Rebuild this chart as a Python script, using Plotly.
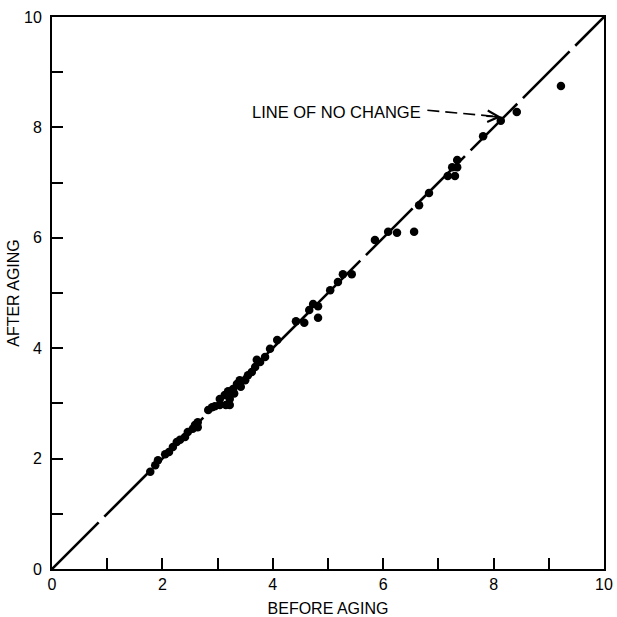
import plotly.graph_objects as go

# Data
before_aging = [1.78, 1.87, 1.92, 2.05, 2.12, 2.19, 2.26, 2.32, 2.41, 2.46, 2.55, 2.59, 2.64, 2.64,
                2.83, 2.90, 2.95, 3.04, 3.15, 3.22, 3.04, 3.13, 3.19, 3.22, 3.28, 3.30, 3.35, 3.40,
                3.42, 3.50, 3.55, 3.62, 3.68, 3.71, 3.77, 3.86, 3.95, 4.08, 4.42, 4.57, 4.66, 4.73,
                4.82, 4.82, 5.04, 5.18, 5.27, 5.43, 5.85, 6.09, 6.25, 6.56, 6.65, 6.83, 7.17, 7.30,
                7.25, 7.34, 7.34, 7.81, 8.13, 8.42, 9.22]
after_aging = [1.76, 1.88, 1.97, 2.08, 2.12, 2.21, 2.30, 2.34, 2.39, 2.48, 2.54, 2.61, 2.66, 2.57,
               2.88, 2.93, 2.95, 2.97, 2.97, 2.97, 3.08, 3.15, 3.22, 3.08, 3.26, 3.18, 3.35, 3.42,
               3.30, 3.42, 3.51, 3.57, 3.66, 3.79, 3.75, 3.84, 3.99, 4.15, 4.49, 4.46, 4.69, 4.80,
               4.76, 4.55, 5.05, 5.20, 5.34, 5.34, 5.96, 6.11, 6.09, 6.11, 6.59, 6.81, 7.12, 7.12,
               7.28, 7.28, 7.41, 7.84, 8.12, 8.28, 8.75]

no_change_line = [0, 10]
tick_values = [0, 1, 2, 3, 4, 5, 6, 7, 8, 9, 10]
tick_labels = ["0", "", "2", "", "4", "", "6", "", "8", "", "10"]

label_text = "LINE OF NO CHANGE"
label_pos = (6.72, 8.28)
arrow_tail = (6.80, 8.31)
arrow_tip = (8.14, 8.19)

FONT = "Liberation Sans, Arial, Helvetica, sans-serif"

fig = go.Figure()
fig.add_trace(go.Scatter(
    x=no_change_line, y=no_change_line, mode="lines",
    line=dict(color="black", width=2.6, dash="66px,8px"),
    hoverinfo="skip", showlegend=False,
))
fig.add_trace(go.Scatter(
    x=before_aging, y=after_aging, mode="markers",
    marker=dict(color="black", size=8.5, line=dict(width=0)),
    showlegend=False,
))

# dashed shaft of arrow
fig.add_shape(type="line", x0=arrow_tail[0], y0=arrow_tail[1],
              x1=arrow_tip[0] - 0.12, y1=arrow_tip[1] + 0.01,
              xref="x", yref="y", line=dict(color="black", width=1.6, dash="12px,6px"))
# arrow head
fig.add_annotation(x=arrow_tip[0], y=arrow_tip[1], xref="x", yref="y",
                   ax=arrow_tip[0] - 0.3, ay=arrow_tip[1] + 0.015, axref="x", ayref="y",
                   text="", showarrow=True, arrowhead=5, arrowsize=1.4, arrowwidth=1.6,
                   arrowcolor="black")
fig.add_annotation(x=label_pos[0], y=label_pos[1], xref="x", yref="y",
                   text=label_text, showarrow=False, xanchor="right", yanchor="middle",
                   font=dict(family=FONT, size=16.5, color="black"))

axis_common = dict(
    range=[0, 10], tickmode="array", tickvals=tick_values, ticktext=tick_labels,
    ticks="inside", ticklen=11, tickwidth=1.6, tickcolor="black",
    showline=True, linewidth=2, linecolor="black", mirror=True,
    showgrid=False, zeroline=False, automargin=False,
    tickfont=dict(family=FONT, size=16, color="black"),
)

fig.update_layout(
    width=617, height=617,
    margin=dict(l=52, r=13, t=17, b=48),
    paper_bgcolor="white", plot_bgcolor="white",
    xaxis=dict(**axis_common, ticklabelstandoff=0,
               title=dict(text="BEFORE AGING", font=dict(family=FONT, size=16, color="black"), standoff=15)),
    yaxis=dict(**axis_common, ticklabelstandoff=5,
               title=dict(text="AFTER AGING", font=dict(family=FONT, size=16, color="black"), standoff=0)),
    showlegend=False,
)

fig.write_html("out.html")
